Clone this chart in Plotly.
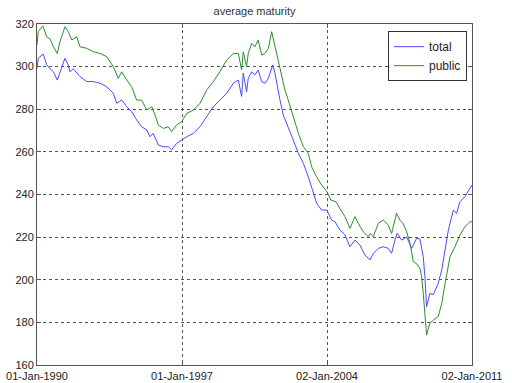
import datetime as dt
import plotly.graph_objects as go

# decimal years and values
total_years = [1990.00, 1990.06, 1990.30, 1990.47, 1990.63, 1990.79, 1990.98, 1991.11, 1991.35, 1991.51,
               1991.59, 1991.75, 1992.08, 1992.40, 1992.72, 1993.04, 1993.36, 1993.68, 1993.85, 1994.09,
               1994.33, 1994.57, 1994.81, 1995.05, 1995.30, 1995.46, 1995.61, 1995.86, 1996.10, 1996.34,
               1996.50, 1996.74, 1996.99, 1997.23, 1997.55, 1997.87, 1998.19, 1998.51, 1998.83, 1999.16,
               1999.48, 1999.72, 1999.88, 1999.96, 2000.12, 2000.20, 2000.37, 2000.52, 2000.68, 2000.85,
               2001.01, 2001.17, 2001.25, 2001.38, 2001.49, 2001.57, 2001.73, 2001.89, 2002.13, 2002.37,
               2002.62, 2002.86, 2003.10, 2003.26, 2003.50, 2003.74, 2003.99, 2004.23, 2004.39, 2004.63,
               2004.87, 2005.11, 2005.35, 2005.59, 2005.83, 2006.08, 2006.24, 2006.48, 2006.72, 2006.96,
               2007.12, 2007.28, 2007.39, 2007.61, 2007.85, 2008.09, 2008.33, 2008.49, 2008.65, 2008.73,
               2008.81, 2008.97, 2009.13, 2009.37, 2009.54, 2009.70, 2009.86, 2010.10, 2010.26, 2010.42,
               2010.66, 2010.90, 2011.00]
total_values = [299.2, 303.9, 305.9, 300.8, 299.0, 297.6, 293.7, 297.6, 303.9, 300.8,
                297.6, 299.0, 295.3, 293.0, 293.0, 292.2, 290.6, 287.5, 282.8, 284.4,
                281.2, 278.9, 275.0, 271.8, 270.3, 267.1, 268.7, 263.2, 262.4, 262.4,
                260.9, 264.0, 265.6, 267.1, 268.7, 271.8, 276.5, 281.2, 284.3, 287.5,
                292.2, 293.7, 286.0, 297.0, 288.2, 294.5, 297.6, 296.1, 298.4, 292.9,
                292.2, 294.5, 296.9, 300.8, 296.9, 292.2, 284.3, 277.3, 271.8, 265.6,
                259.3, 254.6, 248.3, 243.7, 235.9, 232.7, 232.7, 228.0, 227.2, 223.3,
                221.0, 215.5, 218.6, 216.3, 211.6, 209.3, 212.4, 214.7, 215.5, 214.7,
                212.4, 218.6, 221.8, 218.6, 220.1, 214.7, 219.5, 219.0, 210.8, 201.4,
                187.3, 193.6, 193.0, 198.3, 204.6, 214.0, 223.3, 232.7, 231.1, 236.6,
                239.0, 242.9, 244.5]

public_years = [1990.00, 1990.06, 1990.28, 1990.47, 1990.63, 1990.79, 1990.98, 1991.11, 1991.35, 1991.51,
                1991.68, 1991.92, 1992.08, 1992.40, 1992.72, 1993.04, 1993.36, 1993.68, 1993.92, 1994.09,
                1994.33, 1994.57, 1994.81, 1995.05, 1995.30, 1995.54, 1995.70, 1995.86, 1996.10, 1996.34,
                1996.50, 1996.74, 1996.99, 1997.23, 1997.55, 1997.87, 1998.19, 1998.51, 1998.83, 1999.16,
                1999.48, 1999.72, 1999.88, 1999.96, 2000.12, 2000.20, 2000.37, 2000.52, 2000.68, 2000.85,
                2001.01, 2001.17, 2001.33, 2001.49, 2001.65, 2001.81, 2001.97, 2002.13, 2002.37, 2002.62,
                2002.86, 2003.10, 2003.26, 2003.50, 2003.74, 2003.99, 2004.19, 2004.43, 2004.67, 2004.87,
                2005.11, 2005.35, 2005.51, 2005.75, 2005.99, 2006.08, 2006.24, 2006.48, 2006.72, 2006.96,
                2007.12, 2007.36, 2007.52, 2007.67, 2007.85, 2008.01, 2008.17, 2008.33, 2008.49, 2008.57,
                2008.65, 2008.73, 2008.81, 2008.97, 2009.13, 2009.37, 2009.54, 2009.70, 2009.94, 2010.18,
                2010.42, 2010.66, 2010.90, 2011.00]
public_values = [310.1, 316.4, 319.1, 314.0, 313.0, 309.3, 306.2, 311.7, 318.7, 316.4,
                 312.5, 314.0, 309.3, 308.6, 307.0, 306.2, 304.7, 300.0, 294.5, 297.6,
                 293.7, 290.6, 284.3, 284.3, 279.6, 281.2, 277.3, 272.6, 271.0, 271.8,
                 269.5, 272.6, 274.2, 278.1, 279.6, 282.8, 289.0, 292.9, 297.6, 303.1,
                 306.2, 306.2, 298.4, 306.9, 300.0, 306.2, 310.9, 309.3, 312.5, 305.5,
                 306.2, 308.6, 316.4, 309.3, 301.6, 296.1, 289.0, 284.3, 276.5, 268.7,
                 262.4, 259.3, 253.0, 248.3, 244.5, 241.5, 237.4, 236.6, 232.7, 229.6,
                 224.1, 229.6, 226.5, 222.5, 220.2, 221.7, 220.2, 226.5, 228.0, 225.7,
                 221.7, 231.2, 228.0, 226.5, 222.5, 217.0, 208.5, 207.5, 205.4, 201.4,
                 193.6, 182.7, 174.1, 179.6, 181.1, 182.7, 188.9, 198.3, 210.8, 215.5,
                 221.0, 224.9, 227.2, 227.2]

tick_dates = ["1990-01-01", "1997-01-01", "2004-01-02", "2011-01-02"]
tick_labels = ["01-Jan-1990", "01-Jan-1997", "02-Jan-2004", "02-Jan-2011"]
y_ticks = [160, 180, 200, 220, 240, 260, 280, 300, 320]


def to_date(y):
    yr = int(y)
    frac = y - yr
    return dt.datetime(yr, 1, 1) + dt.timedelta(days=frac * 365.25)


fig = go.Figure()
fig.add_trace(go.Scatter(x=[to_date(v) for v in total_years], y=total_values, mode="lines",
                         name="total", line=dict(color="#4a4aff", width=1)))
fig.add_trace(go.Scatter(x=[to_date(v) for v in public_years], y=public_values, mode="lines",
                         name="public", line=dict(color="#2a8f2a", width=1)))

axis_common = dict(showline=True, linecolor="#555555", linewidth=1, mirror="ticks",
                   ticks="inside", ticklen=4, tickcolor="#555555", automargin=False,
                   showgrid=True, gridcolor="#555555", gridwidth=1, griddash="dot",
                   zeroline=False, tickfont=dict(family="Liberation Sans, Arial", size=11, color="#222222"))

fig.update_layout(
    width=512, height=383,
    margin=dict(l=37, r=40, t=24, b=18),
    paper_bgcolor="white", plot_bgcolor="white",
    title=dict(text="average maturity", x=(37 + 472) / 2 / 512, xanchor="center",
               yref="container", y=1 - 11 / 383, yanchor="middle", automargin=False,
               font=dict(family="Liberation Sans, Arial", size=11, color="#333333")),
    xaxis=dict(type="date", range=[tick_dates[0], tick_dates[-1]], tickmode="array",
               tickvals=tick_dates, ticktext=tick_labels, ticklabelstandoff=1, **axis_common),
    yaxis=dict(range=[160, 320], tickmode="array", tickvals=y_ticks, ticklabelstandoff=0, **axis_common),
    legend=dict(x=0.9885, xanchor="right", y=0.979, yanchor="top", bgcolor="white",
                bordercolor="#333333", borderwidth=1,
                font=dict(family="Liberation Sans, Arial", size=12, color="#222222")),
    showlegend=True,
)

fig.write_html("out.html", config={"displayModeBar": False},
               post_script="document.body.style.margin='0px';document.body.style.overflow='hidden';")
